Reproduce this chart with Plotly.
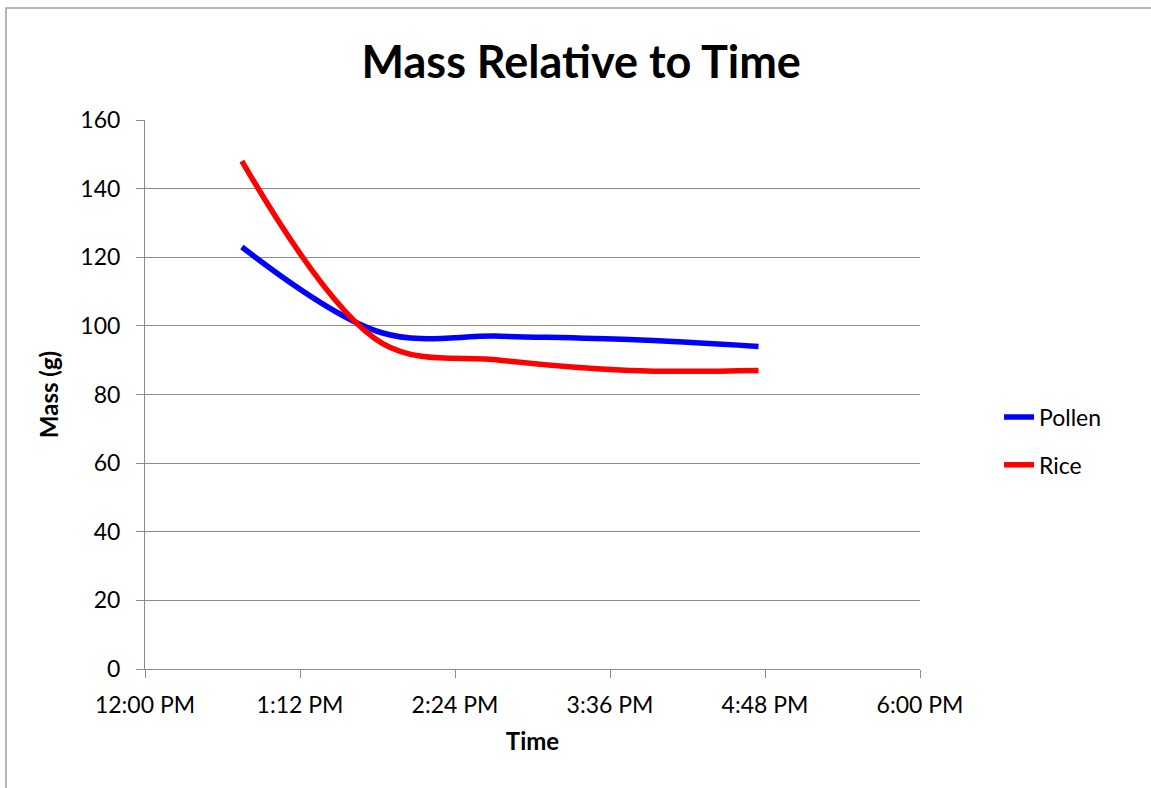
import plotly.graph_objects as go

# ---- data ----
times = ["2024-01-01 12:45", "2024-01-01 13:50", "2024-01-01 14:45",
         "2024-01-01 15:45", "2024-01-01 16:45"]
pollen = [123, 98, 97, 96, 94]
rice = [148, 95, 90, 87, 87]

tick_vals = ["2024-01-01 12:00", "2024-01-01 13:12", "2024-01-01 14:24",
             "2024-01-01 15:36", "2024-01-01 16:48", "2024-01-01 18:00"]
tick_text = ["12:00 PM", "1:12 PM", "2:24 PM", "3:36 PM", "4:48 PM", "6:00 PM"]
y_ticks = [0, 20, 40, 60, 80, 100, 120, 140, 160]

FONT = "Lato"
GRID = "#8c8c8c"

fig = go.Figure()
fig.add_trace(go.Scatter(x=times, y=pollen, name="Pollen", mode="lines",
                         line=dict(color="#0000ff", width=5.5, shape="spline", smoothing=1.0),
                         legendgroup="a"))
fig.add_trace(go.Scatter(x=times, y=rice, name="Rice", mode="lines",
                         line=dict(color="#ff0000", width=5.5, shape="spline", smoothing=1.0),
                         legendgroup="b"))

fig.update_layout(
    width=1151, height=788,
    margin=dict(l=145, r=231, t=120, b=119),
    paper_bgcolor="white", plot_bgcolor="white",
    font=dict(family=FONT, color="black", size=23),
    title=dict(text="<b>Mass Relative to Time</b>", x=0.505, xanchor="center",
               y=1 - 62 / 788, yanchor="middle", yref="container",
               font=dict(family=FONT, size=45, color="black")),
    showlegend=True,
    legend=dict(x=(999 - 145) / 775, xanchor="left", y=(669 - 441) / 549, yanchor="middle",
                font=dict(family=FONT, size=23), tracegroupgap=15,
                bgcolor="rgba(0,0,0,0)"),
    xaxis=dict(type="date", range=["2024-01-01 12:00", "2024-01-01 18:00"],
               tickvals=tick_vals, ticktext=tick_text,
               showgrid=False, showline=True, linecolor=GRID, linewidth=1,
               ticks="outside", ticklen=8, tickcolor=GRID, tickwidth=1,
               tickfont=dict(size=23), zeroline=False, ticklabelstandoff=7,
               title=dict(text="<b>Time</b>", font=dict(size=24), standoff=16)),
    yaxis=dict(range=[0, 160], tickvals=y_ticks,
               showgrid=True, gridcolor=GRID, gridwidth=1,
               showline=True, linecolor=GRID, linewidth=1,
               ticks="outside", ticklen=8, tickcolor=GRID, tickwidth=1,
               tickfont=dict(size=23), zeroline=False, ticklabelstandoff=11,
               title=dict(text="<b>Mass (g)</b>", font=dict(size=24), standoff=14)),
)

# outer chart frame (Excel chart area border)
fig.add_shape(type="rect", xref="paper", yref="paper",
              x0=(6 - 145) / 775, x1=1.6, y0=-0.6, y1=(669 - 8) / 549,
              line=dict(color="#a0a0a0", width=1.5), fillcolor="rgba(0,0,0,0)", layer="below")

fig.write_html("out.html")
